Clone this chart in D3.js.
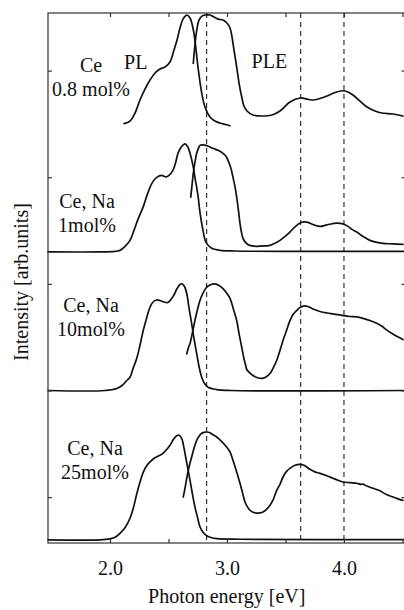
<!DOCTYPE html>
<html>
<head>
<meta charset="utf-8">
<script src="https://cdn.jsdelivr.net/npm/d3@7"></script>
<style>
  html, body { margin: 0; padding: 0; background: #fff; }
  svg { display: block; }
  text { font-family: "Liberation Serif", "Times New Roman", serif; fill: #111; }
</style>
</head>
<body>
<svg id="chart" width="404" height="610"></svg>
<script>
// ---- data -------------------------------------------------------------
const energyTicks = [2.0, 3.0, 4.0];
const energyTickLabels = ["2.0", "3.0", "4.0"];
const energyMinorTicks = [2.5, 3.5, 4.5];
const intensityTicks = [0, 1, 2, 3, 4];
const markerEnergies = [2.826, 3.63, 4.0];

const sampleLabels = [
  ["Ce", "0.8 mol%"],
  ["Ce, Na", "1mol%"],
  ["Ce, Na", "10mol%"],
  ["Ce, Na", "25mol%"]
];
// vertical offset of each spectrum
const baselines = [3.48, 2.30, 1.00, -0.40];

// [photon energy (eV), intensity above baseline]
const pl08 = [[2.120,0.023],[2.171,0.047],[2.214,0.122],[2.256,0.244],[2.299,0.347],[2.342,0.431],[2.385,0.497],[2.427,0.534],[2.470,0.553],[2.513,0.600],[2.547,0.713],[2.573,0.806],[2.598,0.919],[2.624,1.003],[2.656,1.041],[2.684,1.013],[2.709,0.919],[2.726,0.806],[2.752,0.553],[2.784,0.309],[2.812,0.178],[2.855,0.084],[2.897,0.047],[2.940,0.028],[3.026,0.003]];
const ple08 = [[2.712,0.588],[2.722,0.713],[2.739,0.881],[2.761,0.994],[2.786,1.031],[2.812,1.041],[2.855,1.041],[2.889,1.022],[2.923,1.003],[2.966,0.994],[3.000,0.966],[3.026,0.919],[3.043,0.835],[3.060,0.713],[3.083,0.553],[3.103,0.403],[3.126,0.272],[3.145,0.188],[3.171,0.141],[3.222,0.103],[3.308,0.094],[3.385,0.103],[3.453,0.141],[3.538,0.225],[3.624,0.263],[3.684,0.253],[3.735,0.244],[3.795,0.258],[3.855,0.281],[3.923,0.314],[3.991,0.331],[4.034,0.319],[4.077,0.291],[4.137,0.234],[4.197,0.178],[4.265,0.141],[4.325,0.122],[4.419,0.113],[4.504,0.094]];

const pl1 = [[1.470,0],[1.915,0],[2.043,0.005],[2.085,0.014],[2.128,0.052],[2.171,0.108],[2.205,0.202],[2.239,0.305],[2.282,0.417],[2.316,0.530],[2.342,0.605],[2.368,0.661],[2.399,0.699],[2.442,0.717],[2.479,0.703],[2.504,0.717],[2.538,0.764],[2.564,0.849],[2.581,0.924],[2.607,0.980],[2.641,1.013],[2.667,0.980],[2.684,0.924],[2.709,0.811],[2.726,0.699],[2.752,0.530],[2.769,0.370],[2.795,0.202],[2.821,0.089],[2.869,0.033],[2.940,0.014],[3.068,0.008],[3.624,0.005],[4.513,0.005]];
const ple1 = [[2.690,0.514],[2.701,0.624],[2.712,0.736],[2.726,0.839],[2.741,0.924],[2.756,0.971],[2.769,0.999],[2.795,1.003],[2.821,0.999],[2.880,0.971],[2.923,0.952],[2.966,0.924],[2.991,0.896],[3.009,0.858],[3.034,0.783],[3.051,0.701],[3.068,0.614],[3.083,0.514],[3.098,0.389],[3.111,0.267],[3.124,0.183],[3.137,0.127],[3.158,0.089],[3.179,0.070],[3.214,0.056],[3.254,0.052],[3.325,0.056],[3.368,0.061],[3.410,0.080],[3.453,0.108],[3.496,0.145],[3.538,0.186],[3.581,0.234],[3.624,0.270],[3.658,0.281],[3.692,0.277],[3.744,0.253],[3.795,0.239],[3.855,0.253],[3.938,0.270],[3.991,0.263],[4.034,0.239],[4.068,0.211],[4.109,0.186],[4.162,0.145],[4.222,0.108],[4.282,0.089],[4.333,0.080],[4.419,0.075],[4.504,0.070]];

const pl10 = [[1.470,0],[1.957,0],[2.057,0.019],[2.103,0.047],[2.143,0.094],[2.171,0.125],[2.197,0.206],[2.228,0.300],[2.256,0.422],[2.282,0.553],[2.312,0.675],[2.342,0.781],[2.368,0.830],[2.399,0.849],[2.427,0.844],[2.462,0.830],[2.496,0.825],[2.521,0.853],[2.547,0.896],[2.573,0.956],[2.598,0.994],[2.615,1.001],[2.637,0.975],[2.656,0.910],[2.675,0.778],[2.698,0.628],[2.718,0.488],[2.741,0.347],[2.761,0.225],[2.784,0.125],[2.808,0.066],[2.838,0.031],[2.912,0.009],[3.026,0],[4.513,0]];
const ple10 = [[2.656,0.344],[2.671,0.403],[2.684,0.441],[2.705,0.544],[2.726,0.656],[2.748,0.760],[2.769,0.844],[2.795,0.914],[2.826,0.968],[2.855,0.989],[2.897,1.000],[2.932,0.985],[2.966,0.956],[3.000,0.910],[3.026,0.863],[3.051,0.778],[3.083,0.656],[3.103,0.534],[3.126,0.406],[3.145,0.300],[3.158,0.244],[3.169,0.197],[3.188,0.173],[3.222,0.141],[3.256,0.122],[3.297,0.113],[3.333,0.127],[3.368,0.159],[3.397,0.216],[3.425,0.281],[3.453,0.375],[3.479,0.469],[3.509,0.563],[3.538,0.656],[3.568,0.717],[3.596,0.750],[3.624,0.778],[3.652,0.792],[3.692,0.788],[3.735,0.764],[3.795,0.741],[3.855,0.727],[3.915,0.717],[3.991,0.703],[4.051,0.694],[4.109,0.690],[4.162,0.677],[4.222,0.656],[4.280,0.630],[4.325,0.602],[4.365,0.568],[4.410,0.535],[4.451,0.508],[4.504,0.478]];

const pl25 = [[1.470,0],[1.915,0],[2.000,0.009],[2.043,0.023],[2.085,0.061],[2.128,0.113],[2.171,0.202],[2.201,0.305],[2.228,0.427],[2.256,0.539],[2.282,0.628],[2.316,0.699],[2.342,0.730],[2.372,0.760],[2.399,0.778],[2.427,0.792],[2.453,0.811],[2.483,0.844],[2.513,0.886],[2.543,0.942],[2.570,0.975],[2.590,0.980],[2.613,0.952],[2.628,0.886],[2.641,0.811],[2.662,0.689],[2.684,0.558],[2.705,0.427],[2.726,0.308],[2.748,0.211],[2.769,0.122],[2.795,0.070],[2.826,0.038],[2.869,0.019],[2.912,0.011],[3.111,0.005],[4.513,0.002]];
const ple25 = [[2.626,0.401],[2.641,0.483],[2.656,0.577],[2.675,0.680],[2.698,0.776],[2.718,0.858],[2.741,0.933],[2.761,0.971],[2.784,0.999],[2.803,1.008],[2.826,1.011],[2.855,1.003],[2.880,0.985],[2.912,0.964],[2.949,0.928],[2.997,0.870],[3.026,0.825],[3.051,0.745],[3.081,0.642],[3.111,0.530],[3.132,0.445],[3.154,0.354],[3.175,0.309],[3.197,0.277],[3.222,0.258],[3.254,0.251],[3.282,0.253],[3.308,0.261],[3.338,0.286],[3.368,0.324],[3.393,0.371],[3.425,0.464],[3.453,0.520],[3.479,0.589],[3.509,0.642],[3.538,0.670],[3.581,0.699],[3.624,0.708],[3.658,0.699],[3.709,0.661],[3.752,0.637],[3.795,0.623],[3.855,0.600],[3.906,0.577],[3.949,0.558],[3.991,0.542],[4.051,0.536],[4.109,0.530],[4.145,0.520],[4.162,0.522],[4.194,0.504],[4.248,0.483],[4.308,0.459],[4.359,0.427],[4.419,0.401],[4.462,0.384],[4.504,0.370]];

const plSpectra = [pl08, pl1, pl10, pl25];
const pleSpectra = [ple08, ple1, ple10, ple25];

// ---- layout -----------------------------------------------------------
const plotLeft = 48, plotRight = 405.5, plotTop = 13, plotBottom = 543;

const svg = d3.select("#chart");

const x = d3.scaleLinear().domain([1.47, 4.526]).range([plotLeft, plotRight]);
const y = d3.scaleLinear().domain([-0.43, 4.54]).range([plotBottom, plotTop]);

const axisColor = "#333";

// dashed guide lines at the excitation bands
svg.append("g")
  .selectAll("line")
  .data(markerEnergies)
  .join("line")
  .attr("x1", d => x(d)).attr("x2", d => x(d))
  .attr("y1", plotTop).attr("y2", plotBottom)
  .attr("stroke", "#222")
  .attr("stroke-width", 1.1)
  .attr("stroke-dasharray", "5,4");

// spectra
const line = d3.line()
  .x(d => x(d[0]))
  .y(d => y(d[1]))
  .curve(d3.curveCatmullRom.alpha(0.5));

const curves = svg.append("g")
  .attr("fill", "none")
  .attr("stroke", "#111")
  .attr("stroke-width", 1.7)
  .attr("stroke-linejoin", "round")
  .attr("stroke-linecap", "round");

baselines.forEach((b, i) => {
  const shift = s => s.map(([e, v]) => [e, v + b]);
  curves.append("path").attr("d", line(shift(plSpectra[i])));
  curves.append("path").attr("d", line(shift(pleSpectra[i])));
});

// frame
svg.append("rect")
  .attr("x", plotLeft).attr("y", plotTop)
  .attr("width", plotRight - plotLeft).attr("height", plotBottom - plotTop)
  .attr("fill", "none")
  .attr("stroke", axisColor)
  .attr("stroke-width", 1.2);

// axes (ticks point inward)
const allEnergyTicks = energyTicks.concat(energyMinorTicks);
const styleAxis = g => {
  g.select(".domain").remove();
  g.selectAll(".tick line").attr("stroke", axisColor).attr("stroke-width", 1.2);
};

svg.append("g")
  .attr("transform", `translate(0,${plotBottom})`)
  .call(d3.axisBottom(x)
    .tickValues(allEnergyTicks)
    .tickSize(-4)
    .tickPadding(18)
    .tickFormat(d => {
      const k = energyTicks.indexOf(d);
      return k >= 0 ? energyTickLabels[k] : "";
    }))
  .call(styleAxis)
  .call(g => g.selectAll("text")
    .attr("font-size", 20)
    .attr("font-family", "Liberation Serif, Times New Roman, serif")
    .attr("fill", "#111"));

svg.append("g")
  .attr("transform", `translate(0,${plotTop})`)
  .call(d3.axisTop(x).tickValues(allEnergyTicks).tickSize(-4).tickFormat(""))
  .call(styleAxis);

svg.append("g")
  .attr("transform", `translate(${plotLeft},0)`)
  .call(d3.axisLeft(y).tickValues(intensityTicks).tickSize(-4).tickFormat(""))
  .call(styleAxis);

svg.append("g")
  .attr("transform", `translate(${plotRight},0)`)
  .call(d3.axisRight(y).tickValues(intensityTicks).tickSize(-4).tickFormat(""))
  .call(styleAxis);

// axis titles
svg.append("text")
  .attr("x", (plotLeft + plotRight) / 2)
  .attr("y", 603)
  .attr("text-anchor", "middle")
  .attr("font-size", 20)
  .text("Photon energy [eV]");

svg.append("text")
  .attr("transform", `translate(28,282) rotate(-90)`)
  .attr("text-anchor", "middle")
  .attr("font-size", 20)
  .text("Intensity [arb.units]");

// sample labels
const labelPos = [
  { cx: 91, y1: 72 },
  { cx: 87, y1: 208 },
  { cx: 91, y1: 312 },
  { cx: 95, y1: 455 }
];
sampleLabels.forEach((lines, i) => {
  const t = svg.append("text")
    .attr("text-anchor", "middle")
    .attr("font-size", 20);
  lines.forEach((s, j) => {
    t.append("tspan")
      .attr("x", labelPos[i].cx)
      .attr("y", labelPos[i].y1 + j * 24)
      .text(s);
  });
});

svg.append("text").attr("x", x(2.12)).attr("y", 69).attr("font-size", 20).text("PL");
svg.append("text").attr("x", x(3.21)).attr("y", 68).attr("font-size", 20).text("PLE");
</script>
</body>
</html>
